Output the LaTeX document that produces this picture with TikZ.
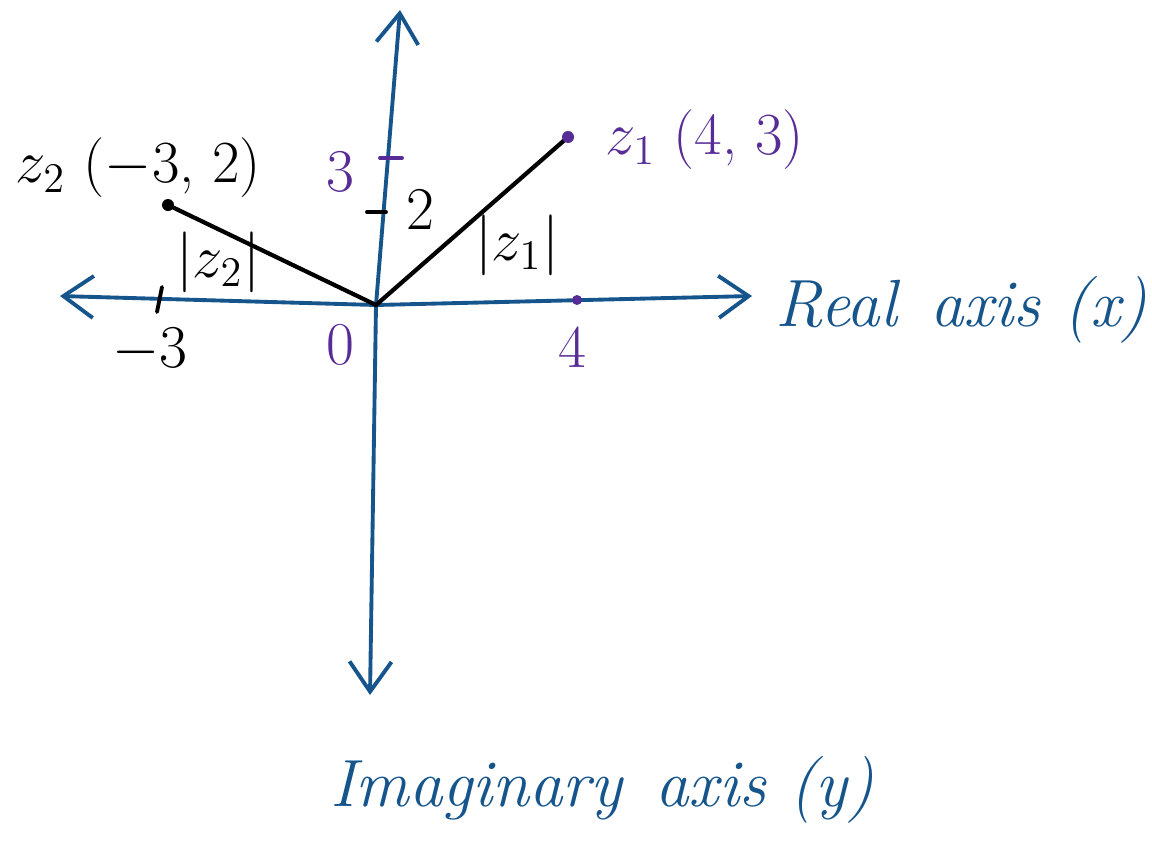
\documentclass[tikz,border=0pt]{standalone}
\usepackage{xcolor}
\usepackage{tikz}
\usetikzlibrary{arrows.meta, positioning}
\definecolor{axisblue}{RGB}{22,84,140}
\definecolor{ptpurple}{RGB}{88,44,150}

\begin{document}
\begin{tikzpicture}[
    x=0.1mm, y=-0.1mm,
    axis/.style={draw=axisblue, line width=1.1pt, -{Straight Barb[length=3mm, width=4.2mm]}},
    axislbl/.style={text=axisblue, font=\fontsize{19}{23}\selectfont\itshape, inner sep=0pt, anchor=west},
    radius/.style={draw=black, line width=1.2pt, line cap=round},
    tickmark/.style={line width=1.1pt, line cap=round},
    numlbl/.style={font=\fontsize{17}{20}\selectfont, inner sep=0pt},
    ptlbl/.style={font=\fontsize{17}{20}\selectfont, inner sep=0pt, anchor=west},
    modlbl/.style={font=\fontsize{18}{22}\selectfont, inner sep=0pt}
]
\useasboundingbox (0,0) rectangle (1152,865);

% axes
\coordinate (O) at (376,305);
\coordinate (xr) at (752,296);
\coordinate (xl) at (60,296);
\coordinate (yt) at (400,10);
\coordinate (yb) at (370,695);
\draw[axis] (O) -- (xr);
\draw[axis] (O) -- (xl);
\draw[axis] (O) -- (yt);
\draw[axis] (O) -- (yb);

% points and moduli
\coordinate (z1) at (568,137);
\coordinate (z2) at (168,205);
\draw[radius] (O) -- (z1);
\draw[radius] (O) -- (z2);
\fill[ptpurple] (z1) circle (6);
\fill[black] (z2) circle (6);

% ticks
\draw[tickmark] (157,312) -- (162,287);
\fill[ptpurple] (577,300) circle (5);
\draw[tickmark, ptpurple] (380,158) -- (402,158);
\draw[tickmark] (367,212) -- (386,212);

% labels
\node[numlbl, text=ptpurple] (n0) at (340,345) {$0$};
\node[numlbl] (nm3) at (150,350) {$-3$};
\node[numlbl, text=ptpurple] (n4) at (572,348) {$4$};
\node[numlbl, text=ptpurple] (n3) at (340,172) {$3$};
\node[numlbl] (n2) at (420,210) {$2$};

\node[ptlbl, text=ptpurple] (z1lbl) at (605,140) {$z_1$ (4, 3)};
\node[ptlbl] (z2lbl) at (15,168) {$z_2$ ($-$3, 2)};
\node[modlbl] (m1) at (517,245) {$|z_1|$};
\node[modlbl] (m2) at (218,262) {$|z_2|$};

\node[axislbl] (real) at (775,310) {Real\enspace axis (x)};
\node[axislbl] (imag) at (330,790) {Imaginary\enspace axis (y)};
\end{tikzpicture}
\end{document}
